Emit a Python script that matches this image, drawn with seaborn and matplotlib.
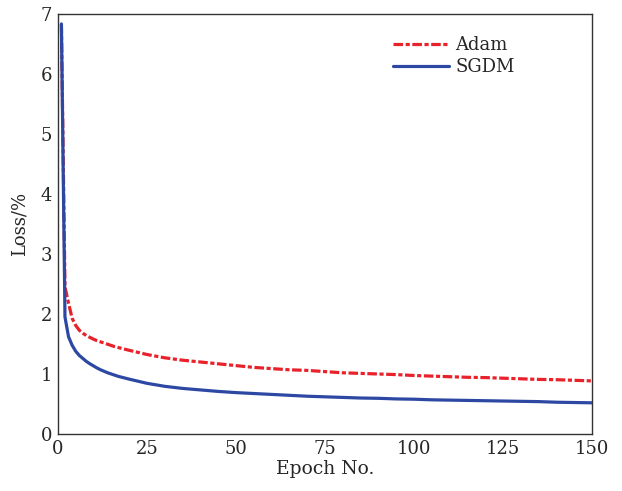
import numpy as np
import pandas as pd
import matplotlib
matplotlib.use("Agg")
import matplotlib.pyplot as plt
import seaborn as sns

# Training loss per epoch for the two optimizers
epochs = [1, 2, 3, 4, 5, 6, 7, 8, 9, 10, 11, 12, 13, 14, 15, 16, 17, 18, 19, 20,
          25, 30, 35, 40, 45, 50, 55, 60, 65, 70, 75, 80, 85, 90, 95, 100,
          105, 110, 115, 120, 125, 130, 135, 140, 145, 150]

adam_loss = [6.83, 2.45, 2.18, 1.93, 1.81, 1.73, 1.68, 1.64, 1.61, 1.58,
             1.555, 1.535, 1.515, 1.495, 1.475, 1.455, 1.44, 1.425, 1.41, 1.395,
             1.325, 1.27, 1.23, 1.20, 1.17, 1.14, 1.11, 1.09, 1.07, 1.06,
             1.04, 1.02, 1.01, 1.00, 0.99, 0.975, 0.965, 0.955, 0.945, 0.94,
             0.93, 0.92, 0.91, 0.905, 0.895, 0.885]

sgdm_loss = [6.83, 1.95, 1.62, 1.48, 1.38, 1.31, 1.26, 1.21, 1.17, 1.135,
             1.10, 1.07, 1.045, 1.02, 1.00, 0.98, 0.96, 0.945, 0.93, 0.915,
             0.845, 0.795, 0.76, 0.735, 0.71, 0.69, 0.675, 0.66, 0.645, 0.63,
             0.62, 0.61, 0.60, 0.595, 0.585, 0.58, 0.57, 0.565, 0.56, 0.555,
             0.55, 0.545, 0.54, 0.53, 0.525, 0.52]

series_names = ["Adam", "SGDM"]
series_colors = {"Adam": "#e8212b", "SGDM": "#2d48a3"}
x_ticks = [0, 25, 50, 75, 100, 125, 150]
y_ticks = [0, 1, 2, 3, 4, 5, 6, 7]

df = pd.DataFrame({
    "epoch": epochs * 2,
    "loss": adam_loss + sgdm_loss,
    "optimizer": ["Adam"] * len(epochs) + ["SGDM"] * len(epochs),
})

sns.set_style("white")
plt.rcParams["font.family"] = ["DejaVu Serif"]
plt.rcParams["font.size"] = 13

fig = plt.figure(figsize=(6.22, 4.91), dpi=100)
ax = fig.add_axes([0.093, 0.116, 0.859, 0.856])

sns.lineplot(data=df, x="epoch", y="loss", hue="optimizer", style="optimizer",
             hue_order=series_names, style_order=series_names,
             palette=series_colors,
             dashes={"Adam": (3.0, 0.8, 1.3, 0.8), "SGDM": ""},
             linewidth=2.3, ax=ax)

# keep the SGDM curve above the Adam curve where they overlap
for line in ax.lines:
    if matplotlib.colors.same_color(line.get_color(), series_colors["SGDM"]):
        line.set_zorder(4)
    else:
        line.set_zorder(3)

ax.set_xlim(0, 150)
ax.set_ylim(0, 7)
ax.set_xticks(x_ticks)
ax.set_yticks(y_ticks)
ax.set_xlabel("Epoch No.", fontsize=13.5, labelpad=2)
ax.set_ylabel("Loss/%", fontsize=13, labelpad=9)

for side in ["left", "bottom", "top", "right"]:
    ax.spines[side].set_color("#333333")
    ax.spines[side].set_linewidth(1.0)
ax.tick_params(axis="both", which="both", direction="in", length=4,
               width=0.8, color="#777777", labelsize=13, pad=4,
               top=False, right=False)

leg = ax.legend(loc="upper right", bbox_to_anchor=(0.885, 0.985), frameon=False,
                fontsize=13, handlelength=3.1, handletextpad=0.35,
                labelspacing=0.2, title=None)

fig.savefig("out.png", dpi=100)
